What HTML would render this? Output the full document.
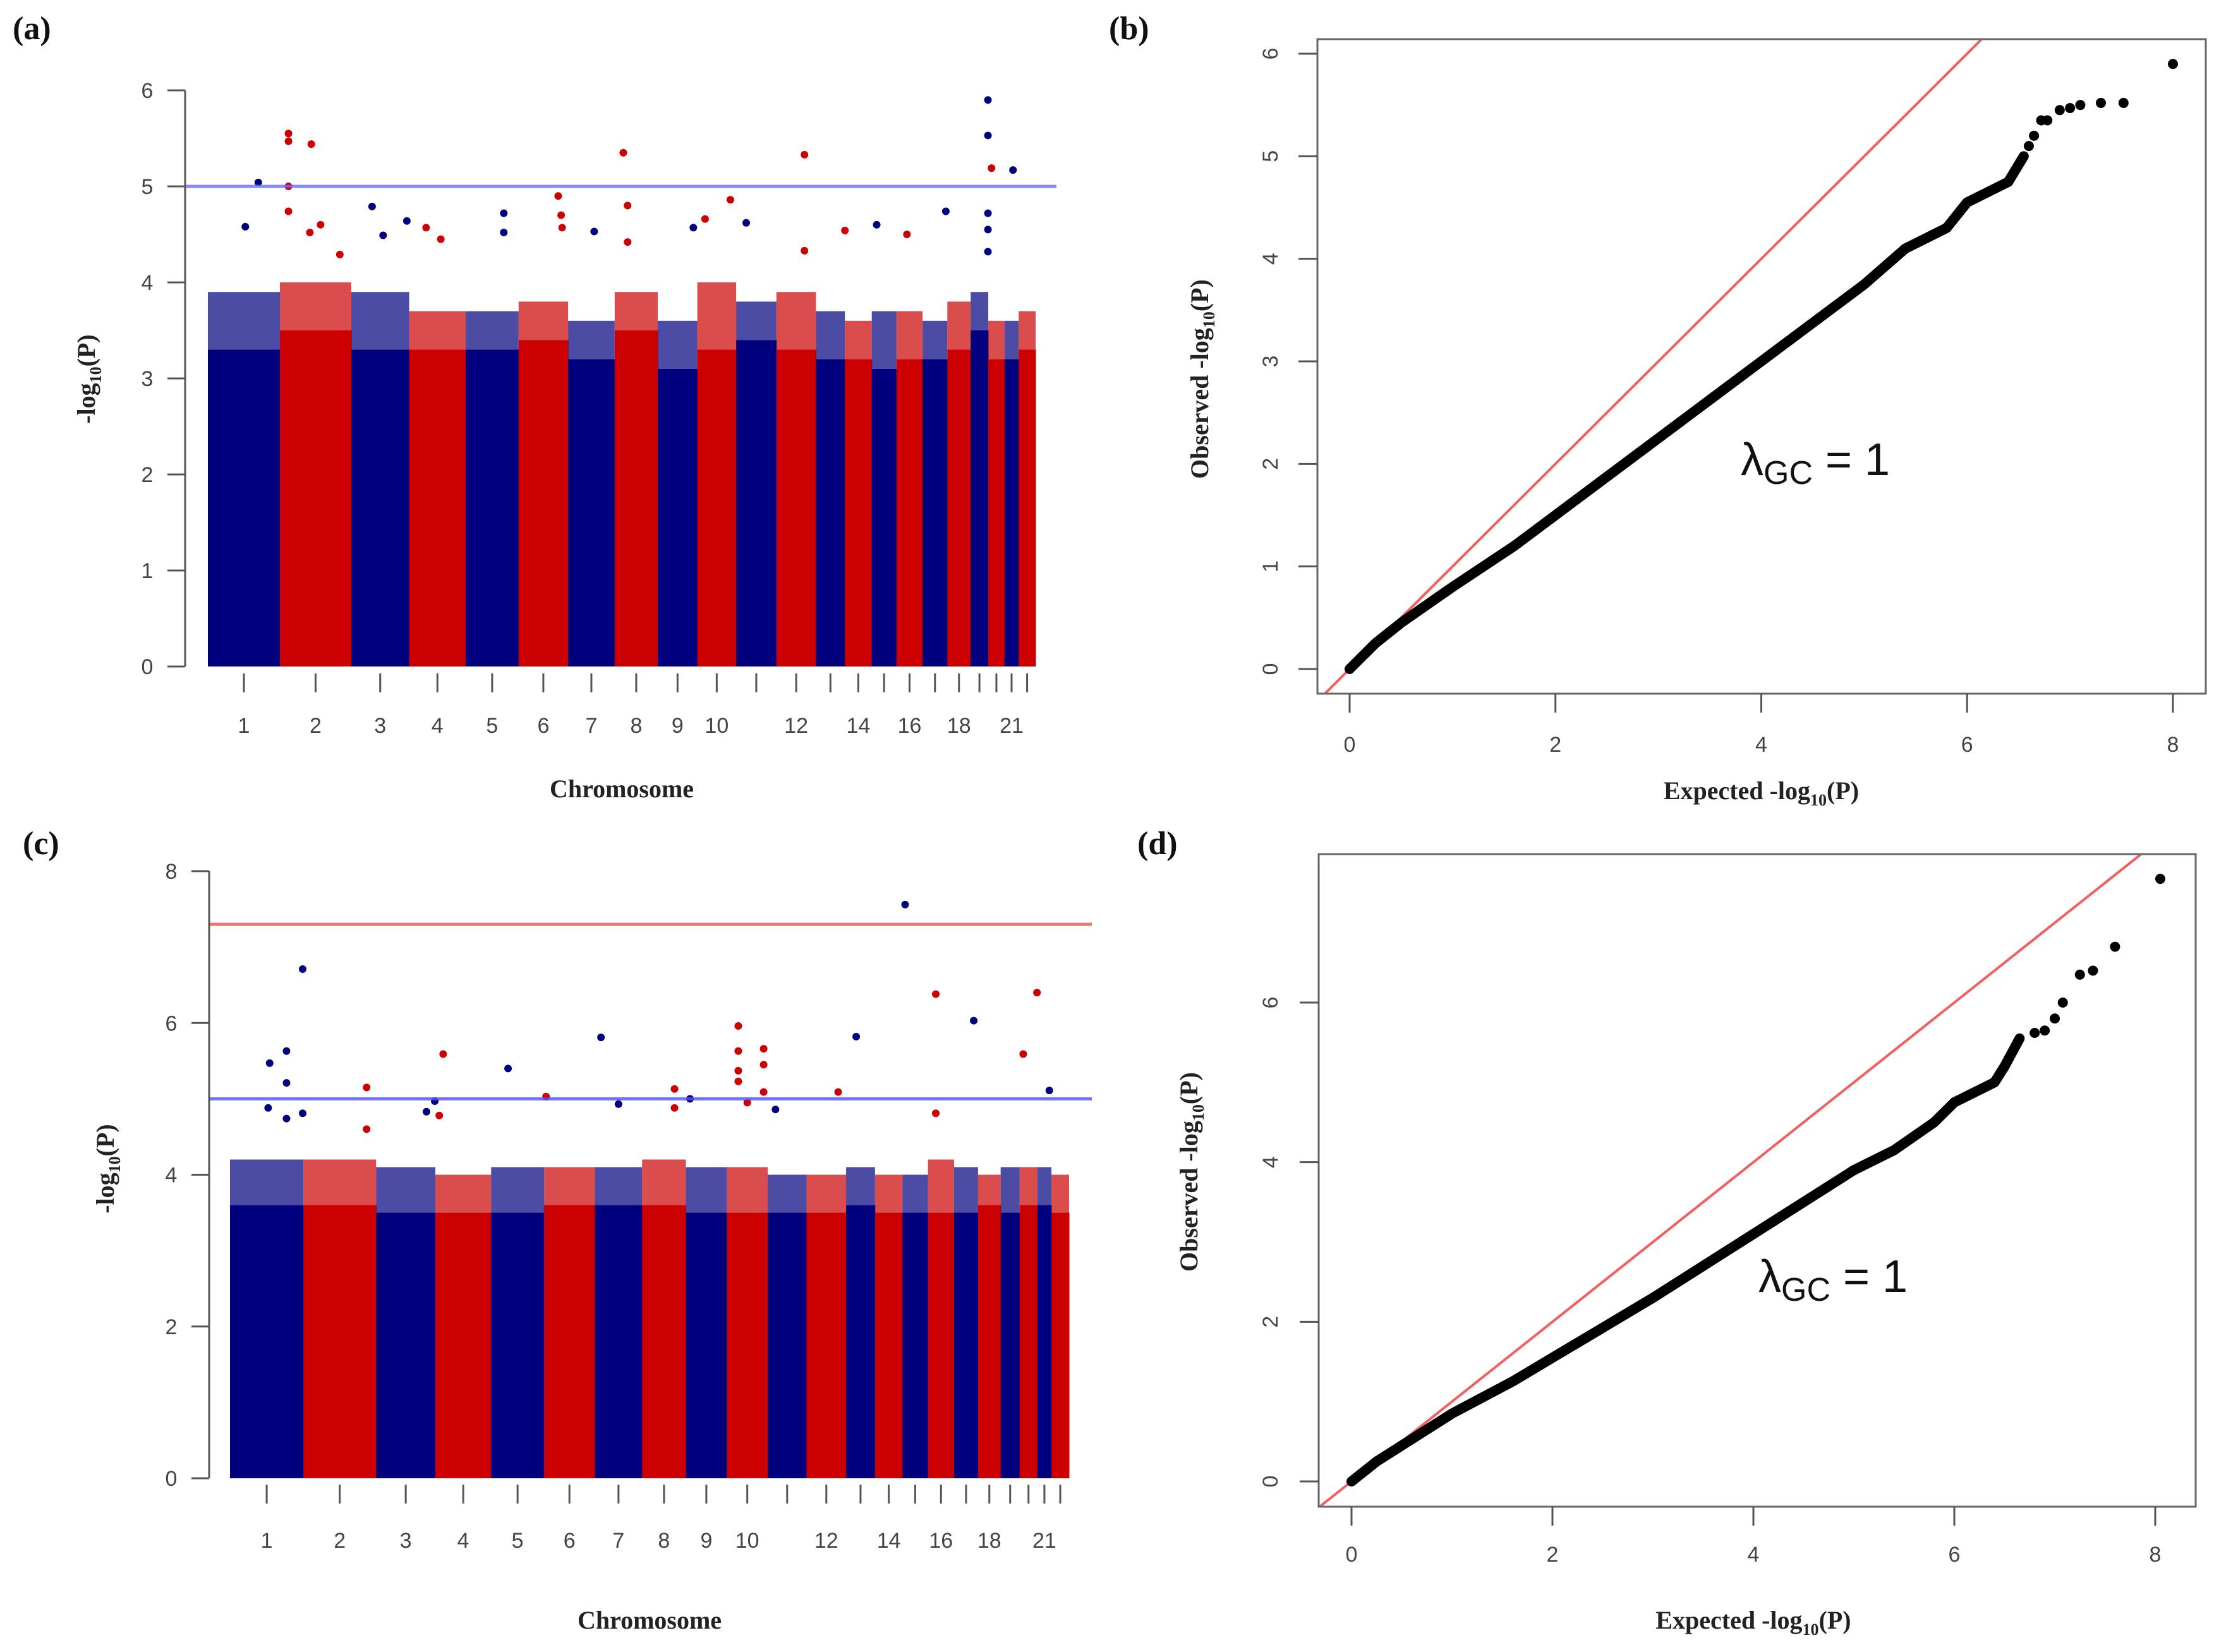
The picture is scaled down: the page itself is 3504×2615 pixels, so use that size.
<!DOCTYPE html>
<html><head><meta charset="utf-8"><style>
html,body{margin:0;padding:0;background:#fff}
svg{display:block}
.tk{font-family:"Liberation Sans",sans-serif;font-size:34px;fill:#444}
.tt{font-family:"Liberation Serif",serif;font-weight:bold;font-size:40px;fill:#222}
.pl{font-family:"Liberation Serif",serif;font-weight:bold;font-size:52px;fill:#111}
.lam{font-family:"Liberation Sans",sans-serif;font-size:72px;fill:#111}
</style></head><body>
<svg id="fig" xmlns="http://www.w3.org/2000/svg" width="3504" height="2615" viewBox="0 0 3504 2615">
<rect width="3504" height="2615" fill="#fff"/>
<g id="pa"></g>
<g id="pb"></g>
<g id="pc"></g>
<g id="pd"></g>
</svg>
<script>
// ---------- data ----------
const chrLabels = ["1","2","3","4","5","6","7","8","9","10","","12","","14","","16","","18","","","21",""];
const chrSizeA = [102,101,82,80,75,70,66,61,56,55,57,56,41,38,35,37,35,33,25,23,20,24];
const chrSizeC = [104,103,84,79,75,72,67,62,58,58,55,56,41,39,36,37,34,32,27,25,20,25];
const solidA = [3.3,3.5,3.3,3.3,3.3,3.4,3.2,3.5,3.1,3.3,3.4,3.3,3.2,3.2,3.1,3.2,3.2,3.3,3.5,3.2,3.2,3.3];
const cloudA = [3.9,4.0,3.9,3.7,3.7,3.8,3.6,3.9,3.6,4.0,3.8,3.9,3.7,3.6,3.7,3.7,3.6,3.8,3.9,3.6,3.6,3.7];
const solidC = [3.6,3.6,3.5,3.5,3.5,3.6,3.6,3.6,3.5,3.5,3.5,3.5,3.6,3.5,3.5,3.5,3.5,3.6,3.5,3.6,3.6,3.5];
const cloudC = [4.2,4.2,4.1,4.0,4.1,4.1,4.1,4.2,4.1,4.1,4.0,4.0,4.1,4.0,4.0,4.2,4.1,4.0,4.1,4.1,4.1,4.0];
// hits: [chromosome index, fraction along chromosome, -log10 p]
const hitsA = [[0,.7,5.04],[0,.52,4.58],[1,.12,5.55],[1,.12,5.47],[1,.44,5.44],[1,.12,5.0],[1,.12,4.74],[1,.42,4.52],[1,.57,4.6],[1,.84,4.29],
 [2,.36,4.79],[2,.55,4.49],[2,.96,4.64],[3,.3,4.57],[3,.56,4.45],[4,.72,4.72],[4,.72,4.52],[5,.8,4.9],[5,.86,4.7],[5,.88,4.57],
 [6,.56,4.53],[7,.2,5.35],[7,.3,4.8],[7,.3,4.42],[8,.9,4.57],[9,.85,4.86],[9,.2,4.66],[10,.25,4.62],[11,.71,5.33],[11,.71,4.33],
 [13,0,4.54],[14,.2,4.6],[15,.4,4.5],[16,.94,4.74],[18,.98,5.9],[18,.98,5.53],[18,.98,4.72],[18,.98,4.55],[18,.98,4.32],[19,.2,5.19],[20,.6,5.17]];
const hitsC = [[0,.54,5.47],[0,.77,5.63],[0,.77,5.21],[0,.99,6.71],[0,.99,4.81],[0,.52,4.88],[0,.77,4.74],[1,.87,5.15],[1,.87,4.6],
 [2,.85,4.83],[2,.99,4.97],[3,.14,5.59],[3,.07,4.78],[4,.32,5.4],[5,.04,5.03],[6,.13,5.81],[6,.5,4.93],[7,.74,5.13],[7,.74,4.88],
 [8,.1,5.0],[9,.28,5.96],[9,.28,5.63],[9,.28,5.37],[9,.28,5.23],[9,.9,5.66],[9,.9,5.45],[9,.9,5.09],[9,.5,4.95],[10,.2,4.86],
 [11,.8,5.09],[12,.35,5.82],[14,.1,7.56],[15,.3,6.38],[15,.3,4.81],[16,.82,6.03],[19,.2,5.59],[19,.98,6.4],[20,.85,5.11]];
const qqExpB = [0,0.25,0.5,1,1.6,2,3,4,5,5.4,5.8,6,6.4,6.55];
const qqObsB = [0,0.25,0.45,0.8,1.2,1.5,2.25,3.0,3.75,4.1,4.3,4.55,4.75,5.0];
const qqTailExpB = [6.6,6.65,6.72,6.78,6.9,7.0,7.1,7.3,7.52,8.0];
const qqTailObsB = [5.1,5.2,5.35,5.35,5.45,5.47,5.5,5.52,5.52,5.9];
const qqExpD = [0,0.25,0.5,1,1.6,2,3,4,5,5.4,5.8,6,6.4,6.5,6.65];
const qqObsD = [0,0.25,0.45,0.85,1.25,1.55,2.3,3.1,3.9,4.15,4.5,4.75,5.0,5.2,5.55];
const qqTailExpD = [6.8,6.9,7.0,7.08,7.25,7.38,7.6,8.05];
const qqTailObsD = [5.62,5.65,5.8,6.0,6.35,6.4,6.7,7.55];

const NS="http://www.w3.org/2000/svg";
function mk(parent,tag,attrs,text){const e=document.createElementNS(NS,tag);for(const k in attrs)e.setAttribute(k,attrs[k]);if(text!==undefined)e.textContent=text;parent.appendChild(e);return e;}
const BLUE="#00007f", RED="#cc0000";

function manhattan(g,cfg){
  const {sizes,solid,cloud,hits,x0,x1,axX,yPix0,yPixTop,yMax,yTicks,lines,tickY,labY,titleX,titleY,chromY,panel,panelX,panelY} = cfg;
  const ys = v => yPix0 - v*(yPix0-yPixTop)/yMax;
  const total = sizes.reduce((a,b)=>a+b,0);
  const starts=[];let acc=0;sizes.forEach(s=>{starts.push(acc);acc+=s;});
  const xs = c => x0 + c/total*(x1-x0);
  sizes.forEach((s,i)=>{
    const col = i%2===0?BLUE:RED;
    const r=mk(g,'rect',{x:xs(starts[i]),y:ys(solid[i]),width:xs(starts[i]+s)-xs(starts[i])+0.5,height:ys(0)-ys(solid[i]),fill:col});
    
    
    const c=mk(g,'rect',{x:xs(starts[i]),y:ys(cloud[i]),width:xs(starts[i]+s)-xs(starts[i]),height:ys(solid[i])-ys(cloud[i]),fill:col,opacity:0.7});
    
    
    const tx=xs(starts[i]+s/2);
    mk(g,'line',{x1:tx,x2:tx,y1:tickY,y2:tickY+30,stroke:'#555','stroke-width':3});
    if(chrLabels[i]){const t=mk(g,'text',{x:tx,y:labY,'text-anchor':'middle',class:'tk'},chrLabels[i]);
      
      }
  });
  hits.forEach(h=>{
    const i=h[0];const col=i%2===0?BLUE:RED;
    const p=mk(g,'circle',{cx:xs(starts[i]+h[1]*sizes[i]),cy:ys(h[2]),r:6,fill:col});
    
    
  });
  lines.forEach(L=>{
    const l=mk(g,'line',{x1:axX,x2:L.end,y1:ys(L.v),y2:ys(L.v),stroke:L.c,'stroke-width':5,opacity:0.8});
    
    
  });
  const ax=mk(g,'line',{x1:axX,x2:axX,y1:ys(yTicks[yTicks.length-1]),y2:ys(0),stroke:'#555','stroke-width':3});
  
  
  yTicks.forEach(v=>{
    mk(g,'line',{x1:axX-28,x2:axX,y1:ys(v),y2:ys(v),stroke:'#555','stroke-width':3});
    const t=mk(g,'text',{x:axX-60,y:ys(v)+12,'text-anchor':'middle',class:'tk'},String(v));
    
    
  });
  const yt=mk(g,'text',{x:0,y:0,transform:`translate(${titleX},${titleY}) rotate(-90)`,'text-anchor':'middle',class:'tt'});
  
  
  yt.innerHTML='-log<tspan font-size="26" dy="10">10</tspan><tspan dy="-10">(P)</tspan>';
  const xt=mk(g,'text',{x:(x0+x1)/2,y:chromY,'text-anchor':'middle',class:'tt'},'Chromosome');
  
  
  const pl=mk(g,'text',{x:panelX,y:panelY,class:'pl'},panel);
  
  
}

function qq(g,cfg){
  const {bx0,bx1,by0,by1,px0,px8,py0,pyT,yTop,yTicks,exp,obs,texp,tobs,lamX,lamY,titleX,titleY,xlabY,xtitleY,ylabX,panel,panelX,panelY}=cfg;
  const xs=v=>px0+v*(px8-px0)/8;
  const ys=v=>py0-v*(py0-pyT)/yTop;
  const clip='clip'+panel.replace(/\W/g,'');
  const defs=mk(g,'defs',{});const cp=mk(defs,'clipPath',{id:clip});mk(cp,'rect',{x:bx0,y:by0,width:bx1-bx0,height:by1-by0});
  const vmax=10;
  const rl=mk(g,'line',{x1:xs(-0.5),y1:ys(-0.5),x2:xs(vmax),y2:ys(vmax),stroke:'#f06060','stroke-width':4,'clip-path':`url(#${clip})`});
  
  
  const pts=exp.map((e,i)=>xs(e)+','+ys(obs[i])).join(' ');
  const pll=mk(g,'polyline',{points:pts,fill:'none',stroke:'#000','stroke-width':16,'stroke-linejoin':'round','stroke-linecap':'round'});
  
  
  texp.forEach((e,i)=>{
    const c=mk(g,'circle',{cx:xs(e),cy:ys(tobs[i]),r:8,fill:'#000'});
    
    
  });
  const box=mk(g,'rect',{x:bx0,y:by0,width:bx1-bx0,height:by1-by0,fill:'none',stroke:'#666','stroke-width':3});
  
  
  [0,2,4,6,8].forEach(v=>{
    mk(g,'line',{x1:xs(v),x2:xs(v),y1:by1,y2:by1+30,stroke:'#555','stroke-width':3});
    const t=mk(g,'text',{x:xs(v),y:xlabY,'text-anchor':'middle',class:'tk'},String(v));
    
    
  });
  yTicks.forEach(v=>{
    mk(g,'line',{x1:bx0-30,x2:bx0,y1:ys(v),y2:ys(v),stroke:'#555','stroke-width':3});
    const t=mk(g,'text',{x:0,y:0,transform:`translate(${ylabX},${ys(v)}) rotate(-90)`,'text-anchor':'middle',class:'tk'},String(v));
    
    
  });
  const yt=mk(g,'text',{x:0,y:0,transform:`translate(${titleX},${titleY}) rotate(-90)`,'text-anchor':'middle',class:'tt'});
  
  
  yt.innerHTML='Observed -log<tspan font-size="26" dy="10">10</tspan><tspan dy="-10">(P)</tspan>';
  const xt=mk(g,'text',{x:(px0+px8)/2,y:xtitleY,'text-anchor':'middle',class:'tt'});
  
  
  xt.innerHTML='Expected -log<tspan font-size="26" dy="10">10</tspan><tspan dy="-10">(P)</tspan>';
  const lm=mk(g,'text',{x:lamX,y:lamY,class:'lam'});
  
  
  lm.innerHTML='λ<tspan font-size="52" dy="14">GC</tspan><tspan dy="-14"> = 1</tspan>';
  const pl=mk(g,'text',{x:panelX,y:panelY,class:'pl'},panel);
  
  
}

manhattan(document.getElementById('pa'),{sizes:chrSizeA,solid:solidA,cloud:cloudA,hits:hitsA,x0:329,x1:1639,axX:293,
  yPix0:1055,yPixTop:143,yMax:6,yTicks:[0,1,2,3,4,5,6],lines:[{v:5,c:'#6b6bff',end:1672,name:'suggestive-threshold-line'}],
  tickY:1066,labY:1160,titleX:150,titleY:600,chromY:1262,panel:'(a)',panelX:20,panelY:62});
manhattan(document.getElementById('pc'),{sizes:chrSizeC,solid:solidC,cloud:cloudC,hits:hitsC,x0:364,x1:1692,axX:331,
  yPix0:2340,yPixTop:1379,yMax:8,yTicks:[0,2,4,6,8],lines:[{v:7.3,c:'#f05050',end:1728,name:'genome-wide-threshold-line'},{v:5,c:'#5050ff',end:1728,name:'suggestive-threshold-line'}],
  tickY:2350,labY:2450,titleX:180,titleY:1850,chromY:2578,panel:'(c)',panelX:36,panelY:1352});
qq(document.getElementById('pb'),{bx0:2085,bx1:3491,by0:62,by1:1098,px0:2136,px8:3439,py0:1059,pyT:85,yTop:6,yTicks:[0,1,2,3,4,5,6],
  exp:qqExpB,obs:qqObsB,texp:qqTailExpB,tobs:qqTailObsB,lamX:2755,lamY:752,titleX:1912,titleY:600,xlabY:1190,xtitleY:1265,ylabX:2022,panel:'(b)',panelX:1755,panelY:62});
qq(document.getElementById('pd'),{bx0:2087,bx1:3475,by0:1352,by1:2385,px0:2139,px8:3411,py0:2345,pyT:1587,yTop:6,yTicks:[0,2,4,6],
  exp:qqExpD,obs:qqObsD,texp:qqTailExpD,tobs:qqTailObsD,lamX:2783,lamY:2045,titleX:1895,titleY:1855,xlabY:2472,xtitleY:2578,ylabX:2022,panel:'(d)',panelX:1800,panelY:1352});
</script>
</body></html>
